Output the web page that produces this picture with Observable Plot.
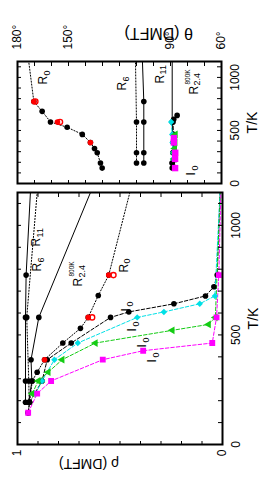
<!DOCTYPE html>
<html><head><meta charset="utf-8">
<script src="https://cdn.jsdelivr.net/npm/d3@7"></script>
<script src="https://cdn.jsdelivr.net/npm/@observablehq/plot@0.6"></script>
<style>
html,body{margin:0;padding:0;background:#fff;overflow:hidden;width:263px;height:488px}
#fig{position:absolute;left:0;top:0;width:488px;height:263px;transform-origin:0 0;transform:translateY(488px) rotate(-90deg);display:flex;align-items:flex-start;background:#fff}
#fig svg{flex:none}
</style></head><body><div id="fig"></div>
<script>
// ---------- axis / tick definitions ----------
const Tmax = 1150;
const tMinor = [0,100,200,300,400,500,600,700,800,900,1000,1100];
const tLabels = [0, 500, 1000];
const rhoMinor = [0,0.1,0.2,0.3,0.4,0.5,0.6,0.7,0.8,0.9,1];
const rhoLabels = [0, 1];
const thetaMinor = [60,70,80,90,100,110,120,130,140,150,160,170,180];
const thetaLabels = [60, 90, 150, 180];

// ---------- left panel: rho (DMFT) vs T ----------
const T_R11 = [193, 290, 580, 773];
const rho_R11 = [0.961, 0.961, 0.961, 0.958];
const T_R6 = [193, 290, 580];
const rho_R6 = [0.943, 0.945, 0.955];
const T_R24 = [193, 290, 387, 580];
const rho_R24 = [0.945, 0.930, 0.934, 0.896];
const T_R0 = [145, 193, 290, 330, 387, 463, 530, 580, 680, 773];
const rho_R0 = [0.948, 0.941, 0.928, 0.904, 0.868, 0.779, 0.693, 0.655, 0.606, 0.555];
const T_I0k = [145, 193, 290, 387, 463, 580, 605, 642, 678, 720, 773];
const rho_I0k = [0.948, 0.941, 0.880, 0.855, 0.738, 0.546, 0.457, 0.237, 0.083, 0.042, 0.026];
const T_I0c = [232, 290, 387, 463, 580, 605, 642, 678];
const rho_I0c = [0.912, 0.880, 0.820, 0.706, 0.416, 0.286, 0.111, 0.037];
const T_I0g = [232, 290, 330, 387, 463, 521, 548, 580];
const rho_I0g = [0.928, 0.899, 0.850, 0.782, 0.620, 0.245, 0.068, 0.035];
const T_I0m = [145, 232, 290, 387, 428, 463, 580, 773];
const rho_I0m = [0.948, 0.904, 0.836, 0.584, 0.387, 0.050, 0.029, 0.018];
const T_redF = [387, 580, 773];
const rho_redF = [0.868, 0.655, 0.555];
const T_redO = [580, 773];
const rho_redO = [0.636, 0.532];
// series order: R11, R6, R2.4, R0, I0 black, I0 cyan, I0 green, I0 magenta
const rhoAtTmax = [0.937, 0.904, 0.644, 0.452, 0.012, 0.012, 0.010, 0.008];

// ---------- right panel: theta (DMFT) vs T ----------
const th_R11 = [105.7, 105.7, 105.7, 105.7];
const th_R6 = [110, 110, 110];
const th_R24 = [89, 88.5, 88.5, 89];
const th_R0 = [130.2, 131.2, 133.1, 134.7, 137.1, 141.9, 150.8, 160.6, 165.5, 170.4];
const Tth_I0k = [145, 193, 290, 387, 463, 580, 605, 642];
const th_I0k = [89, 89, 88.5, 88.3, 88.3, 88.5, 88.1, 86.1];
const Tth_I0c = [232, 290, 387, 463, 580];
const th_I0c = [88.5, 88.5, 88.8, 89, 89.6];
const Tth_I0g = [232, 290, 330, 387, 463];
const th_I0g = [87.8, 87.5, 87.5, 87.3, 87.1];
const Tth_I0m = [145, 232, 290, 387, 428];
const th_I0m = [87.3, 87.3, 87.2, 88, 88];
const th_redF = [137.1, 156.5, 170.4];
const th_redO = [155, 169.5];
const thAtTmax = [106.5, 110.6, 89, 173.4];

// ---------- curve labels ----------
const labMainL = ["R","R","R","R","I","I","I","I"];
const labSubL = ["11","6","2.4","0","0","0","0","0"];
const labSupL = ["","","800K","","","","",""];
const labTL = [904, 789, 721, 785, 607, 516, 443, 374];
const labRhoL = [0.888, 0.883, 0.683, 0.463, 0.449, 0.420, 0.371, 0.322];
const labMainR = ["R","R","R","R","I"];
const labSubR = ["0","6","11","2.4","0"];
const labSupR = ["","","","800K",""];
const labTR = [933, 877, 943, 839, 75];
const labThR = [162.4, 115.9, 94.1, 74.1, 75.3];

// ---------- helpers ----------
const pts = (T, v) => T.map((t, i) => ({T: t, v: v[i]}));
const CYAN = "#00e0e6", GREEN = "#14cc14", MAG = "#ff00ff", RED = "#ff0000";
const DOT = "1.2,1.8", DASH = "3.5,2";
const font = "'Liberation Sans', Arial, Helvetica, sans-serif";

function lineSet(defs) {
  return defs.map(d => Plot.line(d.end == null ? pts(d.T, d.v) : [...pts(d.T, d.v), {T: Tmax, v: d.end}],
    {x: "T", y: "v", stroke: d.color, strokeWidth: 1, strokeDasharray: d.dash}));
}
function dotSet(defs) {
  return defs.filter(d => d.symbol).map(d => Plot.dot(pts(d.T, d.v),
    {x: "T", y: "v", symbol: d.symbol, r: d.r, fill: d.fill, stroke: d.stroke || "none", strokeWidth: d.sw || 1}));
}
function labelSet(T, v, main, sub, sup) {
  const marks = [];
  T.forEach((t, i) => {
    const d = [{T: t, v: v[i]}];
    const w = main[i] === "R" ? 9 : 5;
    marks.push(Plot.text(d, {x: "T", y: "v", text: () => main[i], textAnchor: "start", lineAnchor: "bottom", fontSize: 12}));
    marks.push(Plot.text(d, {x: "T", y: "v", text: () => sub[i], textAnchor: "start", lineAnchor: "bottom", fontSize: 9, dx: w, dy: 2.5}));
    if (sup[i]) marks.push(Plot.text(d, {x: "T", y: "v", text: () => sup[i], textAnchor: "start", lineAnchor: "bottom", fontSize: 6.5, dx: w + 1, dy: -8}));
  });
  return marks;
}
function tickMarks(xt, yt, innerW, innerH, L) {
  return [
    Plot.tickX(xt, {x: d => d, insetTop: innerH - L}),
    Plot.tickX(xt, {x: d => d, insetBottom: innerH - L}),
    Plot.tickY(yt, {y: d => d, insetRight: innerW - L}),
    Plot.tickY(yt, {y: d => d, insetLeft: innerW - L})
  ];
}

// ---------- left panel ----------
const lowerDefs = [
  {T: T_R11, v: rho_R11, end: rhoAtTmax[0], color: "black", dash: null, symbol: "circle", r: 2.8, fill: "black"},
  {T: T_R6, v: rho_R6, end: rhoAtTmax[1], color: "black", dash: DOT, symbol: "circle", r: 2.8, fill: "black"},
  {T: T_R24, v: rho_R24, end: rhoAtTmax[2], color: "black", dash: null, symbol: "circle", r: 2.8, fill: "black"},
  {T: T_R0, v: rho_R0, end: rhoAtTmax[3], color: "black", dash: DOT, symbol: "circle", r: 2.8, fill: "black"},
  {T: T_I0k, v: rho_I0k, end: rhoAtTmax[4], color: "black", dash: DASH, symbol: "circle", r: 2.8, fill: "black"},
  {T: T_I0c, v: rho_I0c, end: rhoAtTmax[5], color: CYAN, dash: DASH, symbol: "diamond2", r: 2.9, fill: CYAN},
  {T: T_I0g, v: rho_I0g, end: rhoAtTmax[6], color: GREEN, dash: DASH, symbol: "triangle", r: 2.9, fill: GREEN},
  {T: T_I0m, v: rho_I0m, end: rhoAtTmax[7], color: MAG, dash: DASH, symbol: "square", r: 3.3, fill: MAG},
  {T: T_redF, v: rho_redF, symbol: "circle", r: 2.8, fill: RED},
  {T: T_redO, v: rho_redO, symbol: "circle", r: 2.6, fill: "none", stroke: RED, sw: 1.4}
];
const W1 = 300, H = 263, ml1 = 43, mr1 = 5, mt = 17, mb1 = 41;
const left = Plot.plot({
  width: W1, height: H, marginLeft: ml1, marginRight: mr1, marginTop: mt, marginBottom: mb1,
  style: {fontFamily: font, fontSize: "12px", background: "white", color: "black"},
  x: {domain: [0, Tmax]},
  y: {domain: [0, 1]},
  marks: [
    ...lineSet(lowerDefs.filter(d => d.color)),
    ...dotSet(lowerDefs),
    ...tickMarks(tMinor, rhoMinor, W1 - ml1 - mr1, H - mt - mb1, 4),
    Plot.frame({strokeWidth: 2}),
    Plot.axisX({ticks: tLabels, tickSize: 0, tickPadding: 9, label: null, tickFormat: d => String(d), fontSize: 12}),
    Plot.axisY({ticks: rhoLabels, tickSize: 0, tickPadding: 5, label: null, tickFormat: d => String(d), fontSize: 12}),
    Plot.text(["T/K"], {frameAnchor: "bottom", dy: 31, lineAnchor: "middle", fontSize: 14}),
    Plot.text(["ρ (DMFT)"], {frameAnchor: "left", dx: -19, dy: -1, rotate: -90, fontSize: 14}),
    ...labelSet(labTL, labRhoL, labMainL, labSubL, labSupL)
  ]
});

// ---------- right panel ----------
const upperDefs = [
  {T: T_R11, v: th_R11, end: thAtTmax[0], color: "black", dash: null, symbol: "circle", r: 2.8, fill: "black"},
  {T: T_R6, v: th_R6, end: thAtTmax[1], color: "black", dash: DOT, symbol: "circle", r: 2.8, fill: "black"},
  {T: T_R24, v: th_R24, end: thAtTmax[2], color: "black", dash: null, symbol: "circle", r: 2.8, fill: "black"},
  {T: T_R0, v: th_R0, end: thAtTmax[3], color: "black", dash: DOT, symbol: "circle", r: 2.8, fill: "black"},
  {T: Tth_I0k, v: th_I0k, color: "black", dash: DASH, symbol: "circle", r: 2.8, fill: "black"},
  {T: Tth_I0c, v: th_I0c, color: CYAN, dash: DASH, symbol: "diamond2", r: 2.9, fill: CYAN},
  {T: Tth_I0g, v: th_I0g, color: GREEN, dash: DASH, symbol: "triangle", r: 2.9, fill: GREEN},
  {T: Tth_I0m, v: th_I0m, color: MAG, dash: DASH, symbol: "square", r: 3.6, fill: MAG},
  {T: T_redF, v: th_redF, symbol: "circle", r: 2.8, fill: RED},
  {T: T_redO, v: th_redO, symbol: "circle", r: 2.6, fill: "none", stroke: RED, sw: 1.4}
];
const W2 = 188, ml2 = 4, mr2 = 62, mb2 = 42;
const right = Plot.plot({
  width: W2, height: H, marginLeft: ml2, marginRight: mr2, marginTop: mt, marginBottom: mb2,
  style: {fontFamily: font, fontSize: "12px", background: "white", color: "black"},
  x: {domain: [0, Tmax]},
  y: {domain: [60, 180]},
  marks: [
    ...lineSet(upperDefs.filter(d => d.color)),
    ...dotSet(upperDefs),
    ...tickMarks(tMinor, thetaMinor, W2 - ml2 - mr2, H - mt - mb2, 4),
    Plot.frame({strokeWidth: 2}),
    Plot.axisX({ticks: tLabels, tickSize: 0, tickPadding: 9, label: null, tickFormat: d => String(d), fontSize: 12}),
    Plot.axisY({anchor: "right", ticks: thetaLabels, tickSize: 0, tickPadding: 12, label: null, tickFormat: d => d + "°", fontSize: 12}),
    Plot.text(["T/K"], {frameAnchor: "bottom", dy: 31, lineAnchor: "middle", fontSize: 14}),
    Plot.text(["θ (DMFT)"], {frameAnchor: "right", dx: 28, dy: 5, rotate: -90, fontSize: 16}),
    ...labelSet(labTR, labThR, labMainR, labSubR, labSupR)
  ]
});

document.getElementById("fig").append(left, right);
</script></body></html>
